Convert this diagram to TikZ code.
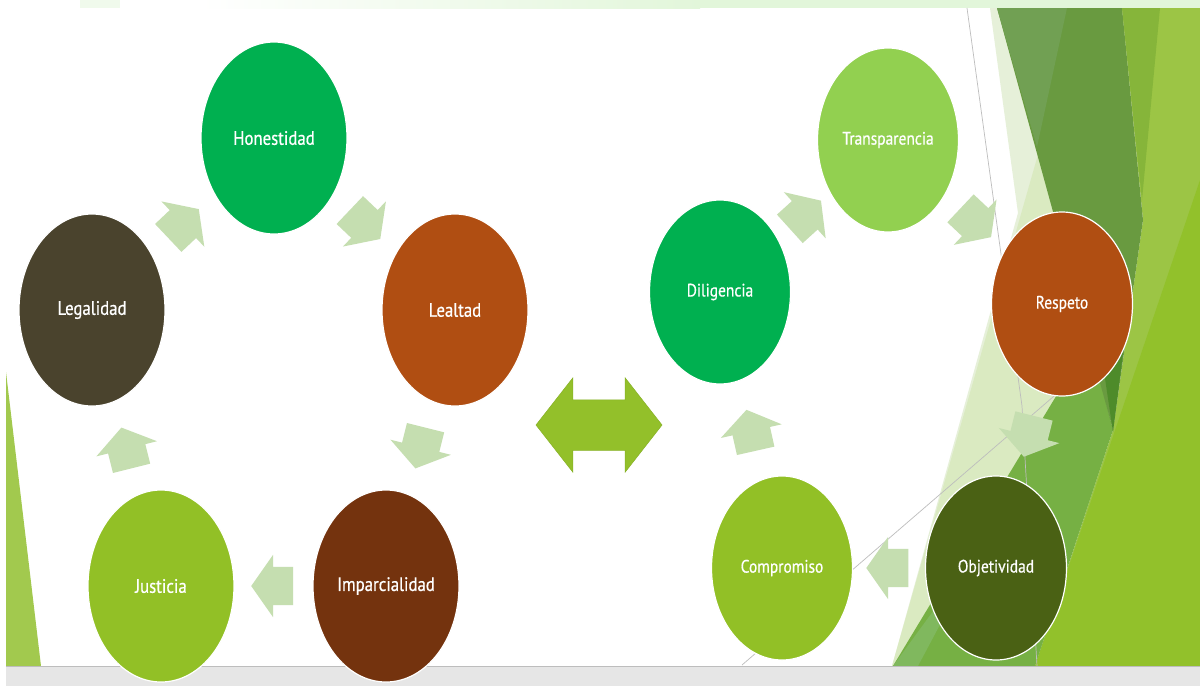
\documentclass[tikz,border=0pt]{standalone}
\usepackage{fontspec}
\setmainfont{PT Sans}[FakeStretch=0.86,FakeBold=0.6]
\usetikzlibrary{shapes.geometric,shapes.arrows}
\definecolor{cHon}{HTML}{00B050}
\definecolor{cLeg}{HTML}{4A432D}
\definecolor{cLea}{HTML}{B04E12}
\definecolor{cImp}{HTML}{74330E}
\definecolor{cJus}{HTML}{92C026}
\definecolor{cTra}{HTML}{92D050}
\definecolor{cObj}{HTML}{4A6114}
\definecolor{arrowgreen}{HTML}{C5DEB0}
\definecolor{dblgreen}{HTML}{93C02A}
\definecolor{paleA}{HTML}{E6F0D9}
\definecolor{paleB}{HTML}{DAEAC1}
\definecolor{baseR}{HTML}{9CC545}
\definecolor{brightG}{HTML}{92C12B}
\definecolor{medG}{HTML}{76B044}
\definecolor{medL}{HTML}{80B85E}
\definecolor{darkG}{HTML}{699A40}
\definecolor{darkG2}{HTML}{71A053}
\definecolor{oliveG}{HTML}{86B53A}
\definecolor{deepG}{HTML}{4E8B2A}
\definecolor{leftG}{HTML}{A2C94E}
\definecolor{topG}{HTML}{E2F6DA}
\definecolor{barG}{HTML}{E6E6E6}
\definecolor{lineG}{HTML}{BDBDBD}
\begin{document}
\begin{tikzpicture}[x=1pt,y=-1pt,
  val/.style={ellipse, minimum width=146pt, minimum height=192pt, inner sep=0pt,
    draw=white, line width=1.2pt, text=white, font=\fontsize{19.5}{21}\selectfont},
  valr/.style={val, minimum width=141pt, minimum height=184pt, font=\fontsize{18}{20}\selectfont},
  flow/.style={single arrow, fill=arrowgreen, draw=none, minimum height=42pt,
    inner xsep=0pt, inner ysep=19pt, single arrow head extend=12pt,
    single arrow tip angle=110, sloped, allow upside down, pos=0.43},
  dbl/.style={double arrow, fill=dblgreen, draw=dblgreen!92!black, line width=0.5pt,
    minimum height=126pt, inner xsep=0pt, inner ysep=25pt,
    double arrow head extend=22pt, double arrow tip angle=104},
  guide/.style={draw=lineG, line width=0.7pt}
]
\useasboundingbox (0,0) rectangle (1200,686);
\fill[white] (0,0) rectangle (1200,686);
% top strip
\shade[left color=white, right color=topG] (200,0) rectangle (700,8);
\fill[topG] (700,0) rectangle (1200,8);
\fill[topG!50] (80,0) rectangle (120,8);
% left triangle
\fill[leftG] (6,372) -- (6,666) -- (41,666) -- cycle;
% right background mosaic
\fill[paleA] (990,8) -- (1000,8) -- (1113,430) -- (905,666) -- (892,666) -- (1018,213) -- cycle;
\fill[paleB] (1045,130) -- (892,666) -- (905,666) -- (1090,340) -- cycle;
\fill[baseR] (1122,8) -- (1200,8) -- (1200,666) -- (1035,666) -- (1113,430) -- (1143,220) -- cycle;
\fill[brightG] (1035,666) -- (1200,666) -- (1200,180) -- cycle;
\fill[medG] (893,666) -- (1035,666) -- (1113,430) -- (1090,340) -- cycle;
\fill[medL] (893,666) -- (918,666) -- (985,540) -- cycle;
\fill[darkG] (997,8) -- (1122,8) -- (1143,220) -- (1113,430) -- cycle;
\fill[darkG2] (997,8) -- (1067,8) -- (1037,147) -- cycle;
\fill[oliveG] (1122,8) -- (1160,8) -- (1142,200) -- cycle;
\fill[deepG] (1100,345) -- (1124,345) -- (1113,432) -- cycle;
\draw[guide] (967,8) -- (1022,406) -- (1037,666);
\draw[guide] (742,665) -- (1075,378);
% bottom bar
\fill[barG] (6,666) rectangle (1200,686);
\draw[draw=lineG, line width=0.8pt] (6,666.5) -- (1200,666.5);
% left cycle
\node[val, fill=cHon] (hon) at (274,138) {Honestidad};
\node[val, fill=cLeg] (leg) at (92,310) {Legalidad};
\node[val, fill=cLea] (lea) at (455,310) {Lealtad};
\node[val, fill=cImp] (imp) at (386,586) {Imparcialidad};
\node[val, fill=cJus] (jus) at (161,586) {Justicia};
% right cycle
\node[valr, fill=cTra] (tra) at (888,140) {Transparencia};
\node[valr, fill=cHon] (dil) at (720,292) {Diligencia};
\node[valr, fill=cLea] (res) at (1062,304) {Respeto};
\node[valr, fill=cJus] (com) at (782,568) {Compromiso};
\node[valr, fill=cObj] (obj) at (996,568) {Objetividad};
% flow arrows
\path (leg) -- node[flow] {} (hon);
\path (hon) -- node[flow] {} (lea);
\path (lea) -- node[flow] {} (imp);
\path (imp) -- node[flow] {} (jus);
\path (jus) -- node[flow] {} (leg);
\path (dil) -- node[flow] {} (tra);
\path (tra) -- node[flow] {} (res);
\path (res) -- node[flow] {} (obj);
\path (obj) -- node[flow] {} (com);
\path (com) -- node[flow] {} (dil);
% central double arrow
\node[dbl] (link) at (599,425) {};
\end{tikzpicture}
\end{document}
